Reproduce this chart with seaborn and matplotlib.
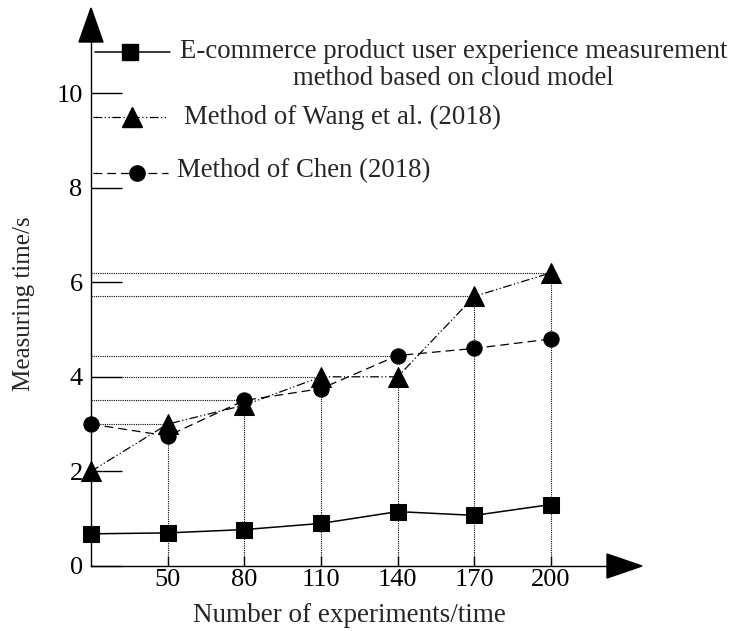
import matplotlib
matplotlib.use("Agg")
import matplotlib.pyplot as plt
import numpy as np
import pandas as pd
import seaborn as sns
from matplotlib.lines import Line2D
from matplotlib.patches import Polygon

# Number of experiments (x) and measuring time in seconds for each method
experiments = [20, 50, 80, 110, 140, 170, 200]
cloud_model = [0.68, 0.70, 0.77, 0.90, 1.15, 1.07, 1.30]
wang_2018 = [2.0, 3.0, 3.4, 4.0, 4.0, 5.7, 6.2]
chen_2018 = [3.0, 2.75, 3.5, 3.75, 4.45, 4.6, 4.8]

x_ticks = [50, 80, 110, 140, 170, 200]
y_ticks = [0, 2, 4, 6, 8, 10]

series_labels = [
    "E-commerce product user experience measurement\nmethod based on cloud model",
    "Method of Wang et al. (2018)",
    "Method of Chen (2018)",
]

# dotted guide lines: (series, x) pairs the guides lead to
h_guides = [("wang", 50), ("chen", 80), ("wang", 110), ("chen", 140), ("wang", 170), ("wang", 200)]
v_guides = [("chen", 50), ("wang", 80), ("chen", 110), ("wang", 140), ("wang", 170), ("wang", 200)]

df = pd.DataFrame({"experiments": experiments, "cloud": cloud_model,
                   "wang": wang_2018, "chen": chen_2018})

sns.set_style("ticks")
plt.rcParams["font.family"] = ["Liberation Serif", "DejaVu Serif"]

W, H = 736, 631
fig = plt.figure(figsize=(W / 100, H / 100), dpi=100)
ax = fig.add_axes([91 / W, 65 / H, 516 / W, 524 / H])

ax.set_xlim(20, 20 + 516 / (460 / 180))
ax.set_ylim(0, 524 / 47.3)

dot = (0, (1, 1))
lookup = df.set_index("experiments")
for name, xv in h_guides:
    ax.hlines(lookup.loc[xv, name], 20, xv, colors="black", linestyles=dot, lw=0.8, zorder=1)
for name, xv in v_guides:
    ax.vlines(xv, 0, lookup.loc[xv, name], colors="black", linestyles=dot, lw=0.8, zorder=1)

common = dict(color="black", markeredgecolor="black", markerfacecolor="black",
              zorder=3, clip_on=False)
sns.lineplot(data=df, x="experiments", y="cloud", ax=ax, marker="s", markersize=11,
             linewidth=1.1, linestyle="-", **common)
sns.lineplot(data=df, x="experiments", y="wang", ax=ax, marker="^", markersize=15,
             linewidth=0.9, linestyle=(0, (7, 2, 1, 2, 1, 2)), **common)
sns.lineplot(data=df, x="experiments", y="chen", ax=ax, marker="o", markersize=11,
             linewidth=0.9, linestyle=(0, (7, 4)), **common)

for side in ["top", "right"]:
    ax.spines[side].set_visible(False)
for side in ["left", "bottom"]:
    ax.spines[side].set_linewidth(1.0)
    ax.spines[side].set_color("black")

ax.set_xticks(x_ticks)
ax.set_yticks(y_ticks)
ax.tick_params(axis="x", direction="in", length=7, width=1, pad=2, labelsize=19, colors="black")
ax.tick_params(axis="y", direction="in", length=22, width=1, pad=6, labelsize=19, colors="black")
ax.set_xlabel("Number of experiments/time", fontsize=19.5, labelpad=9)
ax.set_ylabel("Measuring time/s", fontsize=18, labelpad=15)

# arrow heads on both axes
ax.add_patch(Polygon([(-12 / 516, 1.0), (12 / 516, 1.0), (0, 1.0 + 34 / 524)],
                     closed=True, transform=ax.transAxes, color="black", clip_on=False))
ax.add_patch(Polygon([(1.0, -12 / 524), (1.0, 12 / 524), (1.0 + 35 / 516, 0)],
                     closed=True, transform=ax.transAxes, color="black", clip_on=False))

# legend keys and labels
def fx(px):
    return px / W

def fy(py):
    return 1 - py / H

keys = [
    dict(x0=95, x1=170, xm=130, y=52, marker="s", ms=11, ls="-", lw=1.1, tx=180, ty=65),
    dict(x0=93, x1=168, xm=132, y=117, marker="^", ms=15, ls=(0, (7, 2, 1, 2, 1, 2)), lw=0.9, tx=184, ty=117),
    dict(x0=93, x1=168, xm=137, y=173, marker="o", ms=11, ls=(0, (7, 4)), lw=0.9, tx=177, ty=171),
]
for k, label in zip(keys, series_labels):
    fig.add_artist(Line2D([fx(k["x0"]), fx(k["x1"])], [fy(k["y"]), fy(k["y"])],
                          transform=fig.transFigure, color="black", lw=k["lw"], linestyle=k["ls"]))
    fig.add_artist(Line2D([fx(k["xm"])], [fy(k["y"])], transform=fig.transFigure,
                          marker=k["marker"], markersize=k["ms"], color="black", linestyle="none"))
    fig.text(fx(k["tx"]), fy(k["ty"]), label, fontsize=19.3, ha="left", va="center",
             multialignment="center", linespacing=1.1, transform=fig.transFigure)

fig.savefig("out.png", dpi=100)
